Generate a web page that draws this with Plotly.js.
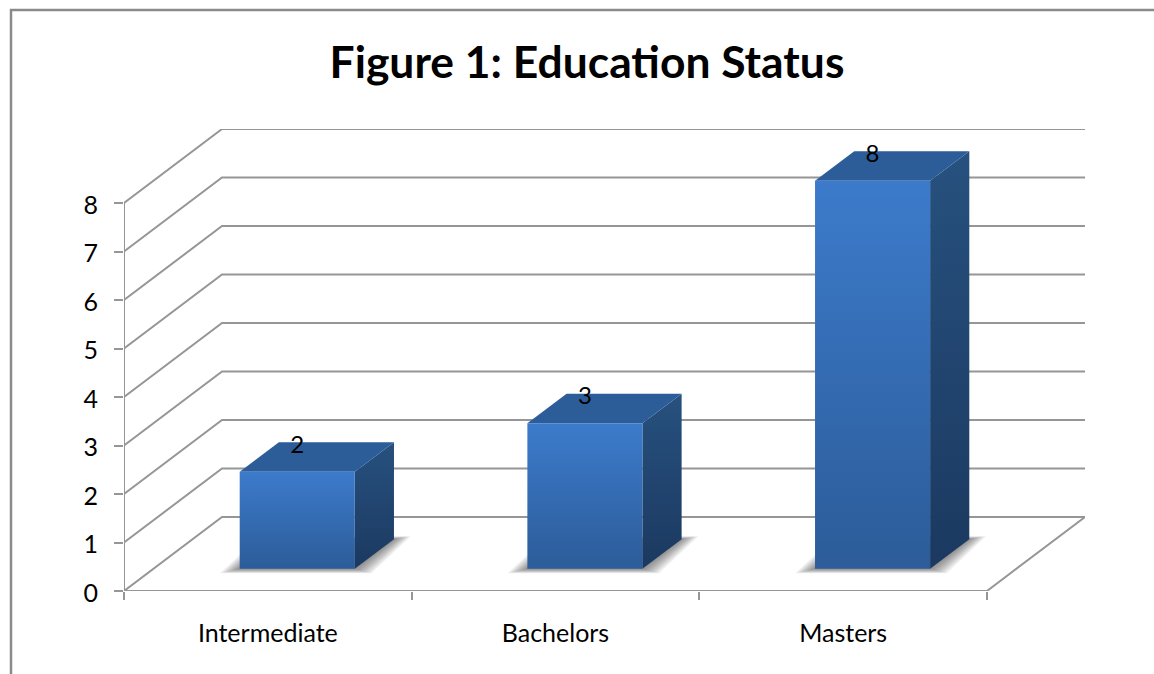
<!DOCTYPE html>
<html>
<head>
<meta charset="utf-8">
<title>Education Status</title>
<script src="https://cdn.plot.ly/plotly-3.0.1.min.js"></script>
<style>
  html, body { margin: 0; padding: 0; background: #fff; overflow: hidden; }
  #chart { width: 1154px; height: 674px; }
</style>
</head>
<body>
<div id="chart"></div>
<script>
// Survey counts by highest qualification
const categories = ['Intermediate', 'Bachelors', 'Masters'];
const values = [2, 3, 8];
const valueTicks = [0, 1, 2, 3, 4, 5, 6, 7, 8];
const categoryEdges = [0, 1, 2, 3];

// Oblique projection: a point at depth d (0 = front, 1 = back wall) is shifted
// along both axes by these amounts, in axis units.
const depthX = 0.3407;
const depthY = 1.526;
const barHalfWidth = 0.2;
const barFront = 0.3;
const barBack = 0.7;

const project = (x, v, d) => [x + d * depthX, v + d * depthY];

function polygon(points, style) {
  const closed = points.concat([points[0]]);
  return Object.assign({
    type: 'scatter',
    mode: 'lines',
    x: closed.map(p => p[0]),
    y: closed.map(p => p[1]),
    fill: 'toself',
    line: { width: 0 },
    hoverinfo: 'skip',
    showlegend: false,
    cliponaxis: false
  }, style);
}

function gridLine(points, color, width) {
  return {
    type: 'scatter',
    mode: 'lines',
    x: points.map(p => p[0]),
    y: points.map(p => p[1]),
    line: { color: color, width: width },
    hoverinfo: 'skip',
    showlegend: false,
    cliponaxis: false
  };
}

function vGradient(bottom, top) {
  return { type: 'vertical', colorscale: [[0, bottom], [1, top]] };
}

const traces = [];
const gridColor = '#969696';
const gridWidth = 2;

// Floor and back wall
valueTicks.forEach(v => {
  traces.push(gridLine([project(0, v, 0), project(0, v, 1), project(3, v, 1)], gridColor, gridWidth));
});
traces.push(gridLine([project(0, 0, 0), project(3, 0, 0), project(3, 0, 1)], gridColor, gridWidth));
traces.push(gridLine([project(0, 0, 0), project(0, 8, 0)], gridColor, gridWidth));

// Soft shadow under each column, built from stacked translucent outlines
const shadowLayers = 14;
const unitX = 287.66, unitY = 48.5;
categories.forEach((c, i) => {
  const mid = i + 0.5;
  for (let k = shadowLayers; k >= 1; k--) {
    const t = k / shadowLayers;
    const left = mid - barHalfWidth - 20 * t / unitX;
    const right = mid + barHalfWidth + 17 * t / unitX;
    const low = -4.5 * t / unitY;
    const high = 3 * t / unitY;
    traces.push(polygon([
      project(left, low, barFront),
      project(right, low, barFront),
      project(right, high, barBack),
      project(left, high, barBack)
    ], { fillcolor: 'rgba(50,50,50,0.05)' }));
  }
});

// Columns: side, top and front faces
categories.forEach((c, i) => {
  const mid = i + 0.5;
  const l = mid - barHalfWidth, r = mid + barHalfWidth, v = values[i];
  traces.push(polygon([
    project(r, 0, barFront), project(r, 0, barBack),
    project(r, v, barBack), project(r, v, barFront)
  ], { fillgradient: vGradient('#1b3960', '#27517f') }));
  traces.push(polygon([
    project(l, v, barFront), project(r, v, barFront),
    project(r, v, barBack), project(l, v, barBack)
  ], { fillcolor: '#2c5d98' }));
  traces.push(polygon([
    project(l, 0, barFront), project(r, 0, barFront),
    project(r, v, barFront), project(l, v, barFront)
  ], { fillgradient: vGradient('#2c5c99', '#3c7bcb') }));
});

// Value labels sit just above the front edge of each column top
const labelLift = 0.52;
traces.push({
  type: 'scatter',
  mode: 'text',
  x: categories.map((c, i) => project(i + 0.5, values[i], barFront)[0]),
  y: categories.map((c, i) => project(i + 0.5, values[i], barFront)[1] + labelLift),
  text: values.map(String),
  textposition: 'middle center',
  textfont: { family: 'Lato, sans-serif', size: 24, color: '#000' },
  hoverinfo: 'skip',
  showlegend: false,
  cliponaxis: false
});

const layout = {
  width: 1154,
  height: 674,
  margin: { l: 124, r: 69, t: 129, b: 83, pad: 0 },
  paper_bgcolor: '#fff',
  plot_bgcolor: 'rgba(0,0,0,0)',
  showlegend: false,
  font: { family: 'Lato, sans-serif', color: '#000' },
  title: {
    text: 'Figure 1: Education Status',
    font: { family: 'Lato, sans-serif', size: 44.4, weight: 700, color: '#000' },
    x: 587 / 1154, xanchor: 'center', xref: 'container',
    y: 1 - 62 / 674, yanchor: 'middle', yref: 'container'
  },
  xaxis: {
    range: [0, 3 + depthX],
    tickmode: 'array',
    tickvals: categories.map((c, i) => i + 0.5),
    ticktext: categories,
    ticks: '',
    ticklabelstandoff: 25,
    tickfont: { family: 'Lato, sans-serif', size: 25, color: '#000' },
    showgrid: false,
    zeroline: false,
    showline: false,
    minor: { tickmode: 'array', tickvals: categoryEdges, ticks: 'outside', ticklen: 8, tickwidth: 2, tickcolor: gridColor, showgrid: false },
    fixedrange: true
  },
  yaxis: {
    range: [0, 8 + depthY],
    tickmode: 'array',
    tickvals: valueTicks,
    ticks: 'outside',
    ticklen: 9,
    tickwidth: 2,
    tickcolor: gridColor,
    ticklabelstandoff: 11,
    ticklabelshift: 2,
    tickfont: { family: 'Lato, sans-serif', size: 25, color: '#000' },
    showgrid: false,
    zeroline: false,
    showline: false,
    fixedrange: true
  },
  shapes: [
    // Chart frame, open on the right and at the bottom
    {
      type: 'path', xref: 'paper', yref: 'paper',
      path: 'M ' + ((11 - 124) / 961) + ' ' + ((591 - 674 - 5) / 462) +
            ' L ' + ((11 - 124) / 961) + ' ' + ((591 - 10) / 462) +
            ' L ' + ((1160 - 124) / 961) + ' ' + ((591 - 10) / 462),
      line: { color: '#8a8a8a', width: 2.5 }
    }
  ]
};

Plotly.newPlot('chart', traces, layout, { displayModeBar: false, staticPlot: true });
</script>
</body>
</html>
